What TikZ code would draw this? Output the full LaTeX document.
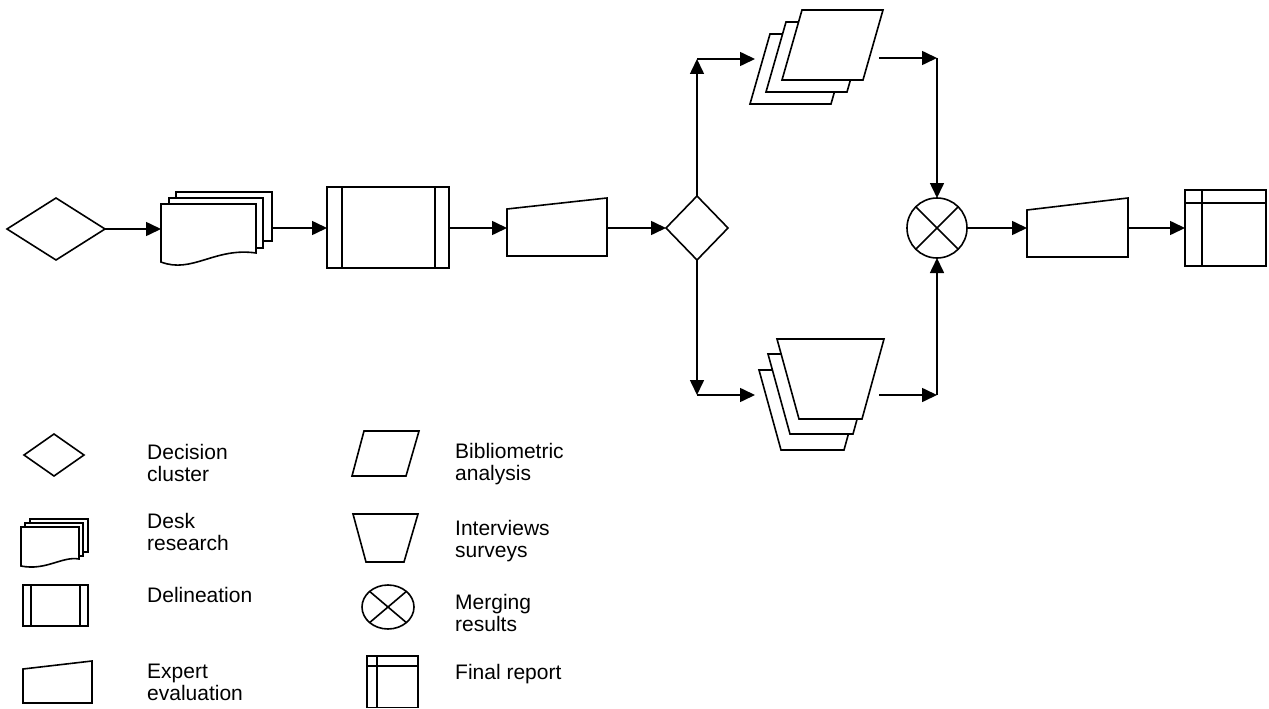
\documentclass[tikz,border=0pt]{standalone}
\usepackage{fontspec}
\setmainfont{Liberation Sans}
\usetikzlibrary{arrows.meta}
\begin{document}
\begin{tikzpicture}[x=1pt,y=-1pt,line join=miter,
  shp/.style={draw=black,fill=white,line width=1.6pt},
  thin/.style={draw=black,line width=1.6pt},
  arr/.style={draw=black,line width=1.6pt,-{Triangle[length=15pt,width=14pt]}},
  lbl/.style={anchor=base west,align=left,inner sep=0pt,font=\fontsize{21}{22}\selectfont}]
\useasboundingbox (0,0) rectangle (1269,709);

% ---------- main flow ----------
% decision cluster (start)
\draw[shp] (7,229) -- (56,198) -- (105,229) -- (56,260) -- cycle;
\coordinate (dc-e) at (105,229);

% desk research (multi document)
\draw[shp] (176,192) rectangle (272,241);
\draw[shp] (169,198) rectangle (263,248);
\draw[shp] (161,204) -- (256,204) -- (256,253) .. controls (215,247) and (192,274) .. (161,262) -- cycle;
\coordinate (dr-w) at (161,229);
\coordinate (dr-e) at (272,228);

% delineation
\draw[shp] (327,187) rectangle (449,268);
\draw[thin] (342,187) -- (342,268) (435,187) -- (435,268);
\coordinate (dl-w) at (327,228);
\coordinate (dl-e) at (449,228);

% expert evaluation 1
\draw[shp] (507,209) -- (607,198) -- (607,256) -- (507,256) -- cycle;
\coordinate (ee-w) at (507,228);
\coordinate (ee-e) at (607,228);

% decision diamond
\draw[shp] (666,228) -- (697,196) -- (728,228) -- (697,260) -- cycle;
\coordinate (dd-w) at (666,228);
\coordinate (dd-n) at (697,196);
\coordinate (dd-s) at (697,260);

% bibliometric analysis (stacked parallelograms)
\draw[shp] (770,34) -- (851,34) -- (831,104) -- (750,104) -- cycle;
\draw[shp] (786,22) -- (867,22) -- (847,92) -- (766,92) -- cycle;
\draw[shp] (802,10) -- (883,10) -- (863,80) -- (782,80) -- cycle;
\coordinate (ba-w) at (755,59);
\coordinate (ba-e) at (879,58);

% interviews surveys (stacked trapezoids)
\draw[shp] (759,370) -- (866,370) -- (844,450) -- (781,450) -- cycle;
\draw[shp] (768,354) -- (875,354) -- (853,434) -- (790,434) -- cycle;
\draw[shp] (777,339) -- (884,339) -- (862,419) -- (799,419) -- cycle;
\coordinate (is-w) at (755,395);
\coordinate (is-e) at (879,395);

% merging results
\draw[shp] (937,228) circle (30);
\draw[thin] (915.8,206.8) -- (958.2,249.2) (958.2,206.8) -- (915.8,249.2);
\coordinate (mr-n) at (937,198);
\coordinate (mr-s) at (937,258);
\coordinate (mr-e) at (967,228);

% expert evaluation 2
\draw[shp] (1027,210) -- (1128,198) -- (1128,257) -- (1027,257) -- cycle;
\coordinate (ee2-w) at (1027,228);
\coordinate (ee2-e) at (1128,228);

% final report
\draw[shp] (1185,190) rectangle (1266,266);
\draw[thin] (1202,190) -- (1202,266) (1185,203) -- (1266,203);
\coordinate (fr-w) at (1185,228);

% corners
\coordinate (c-up) at (697,59);
\coordinate (c-dn) at (697,395);
\coordinate (c-ur) at (937,58);
\coordinate (c-lr) at (937,395);

% ---------- connectors ----------
\draw[arr] (dc-e) -- (dr-w);
\draw[arr] (dr-e) -- (dl-w);
\draw[arr] (dl-e) -- (ee-w);
\draw[arr] (ee-e) -- (dd-w);
\draw[arr] (dd-n) -- (c-up);
\draw[arr] (c-up) -- (ba-w);
\draw[arr] (dd-s) -- (c-dn);
\draw[arr] (c-dn) -- (is-w);
\draw[arr] (ba-e) -- (c-ur);
\draw[arr] (c-ur) -- (mr-n);
\draw[arr] (is-e) -- (c-lr);
\draw[arr] (c-lr) -- (mr-s);
\draw[arr] (mr-e) -- (ee2-w);
\draw[arr] (ee2-e) -- (fr-w);

% ---------- legend ----------
\draw[shp] (24,455) -- (54,434) -- (84,455) -- (54,476) -- cycle;
\node[lbl] (l1) at (147,481) {Decision\\cluster};

\draw[shp] (30,519) rectangle (88,552);
\draw[shp] (25,523) rectangle (83,556);
\draw[shp] (21,527) -- (79,527) -- (79,559) .. controls (62,556) and (46,571) .. (21,566) -- cycle;
\node[lbl] (l2) at (147,550) {Desk\\research};

\draw[shp] (23,585) rectangle (88,626);
\draw[thin] (31,585) -- (31,626) (80,585) -- (80,626);
\node[lbl] (l3) at (147,602) {Delineation};

\draw[shp] (23,669) -- (92,661) -- (92,703) -- (23,703) -- cycle;
\node[lbl] (l4) at (147,700) {Expert\\evaluation};

\draw[shp] (364,431) -- (419,431) -- (406,476) -- (352,476) -- cycle;
\node[lbl] (l5) at (455,480) {Bibliometric\\analysis};

\draw[shp] (353,514) -- (418,514) -- (404,562) -- (366,562) -- cycle;
\node[lbl] (l6) at (455,557) {Interviews\\surveys};

\draw[shp] (388,607) ellipse (26 and 22);
\draw[thin] (369.6,591.4) -- (406.4,622.6) (406.4,591.4) -- (369.6,622.6);
\node[lbl] (l7) at (455,631) {Merging\\results};

\draw[shp] (367,656) rectangle (418,707.5);
\draw[thin] (377,656) -- (377,707.5) (367,666) -- (418,666);
\node[lbl] (l8) at (455,679) {Final report};
\end{tikzpicture}
\end{document}
